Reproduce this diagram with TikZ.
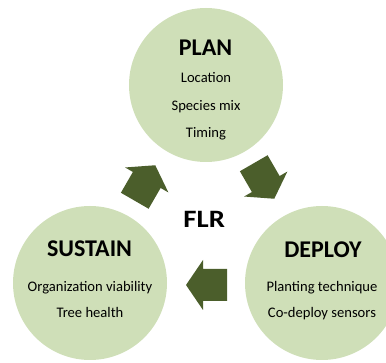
\documentclass[tikz,border=0pt]{standalone}
\usepackage{fontspec}
\setmainfont{Carlito}
\definecolor{cfill}{HTML}{CFDFB8}
\definecolor{afill}{HTML}{4B5E2B}
\begin{document}
\begin{tikzpicture}[x=1pt,y=-1pt,
  phase/.style={circle, fill=cfill, minimum size=154pt, inner sep=0pt},
  ttl/.style={anchor=base, inner sep=0pt, font=\fontsize{24}{27}\selectfont\bfseries},
  itm/.style={anchor=base, inner sep=0pt, font=\fontsize{14.6}{16}\selectfont},
  bigarrow/.pic={\fill[afill] (-20.5,-16) -- (3.5,-16) -- (3.5,-25) -- (20.5,0) -- (3.5,25) -- (3.5,16) -- (-20.5,16) -- cycle;}]
\useasboundingbox (0,0) rectangle (386,363);
\node[phase] (plan) at (206,85) {};
\node[phase] (sustain) at (90,283) {};
\node[phase] (deploy) at (322,283) {};
\node[ttl] (plant) at (205.5,56) {PLAN};
\node[itm] (p1) at (206,83) {Location};
\node[itm] (p2) at (206,110.5) {Species mix};
\node[itm] (p3) at (206,137.5) {Timing};
\node[ttl] (sust) at (89.5,256.7) {SUSTAIN};
\node[itm] (s1) at (90,291.5) {Organization viability};
\node[itm] (s2) at (90,318) {Tree health};
\node[ttl] (dept) at (323,257.3) {DEPLOY};
\node[itm] (d1) at (322,291.5) {Planting technique};
\node[itm] (d2) at (322,318) {Co-deploy sensors};
\node[ttl, xscale=1.15, font=\fontsize{25}{28}\selectfont\bfseries] (flr) at (204.2,227.3) {FLR};
\pic at (206.5,285) [rotate=180] {bigarrow};
\pic at (145,183) [rotate=60] {bigarrow};
\pic at (264,181) [rotate=-60] {bigarrow};
\end{tikzpicture}
\end{document}
